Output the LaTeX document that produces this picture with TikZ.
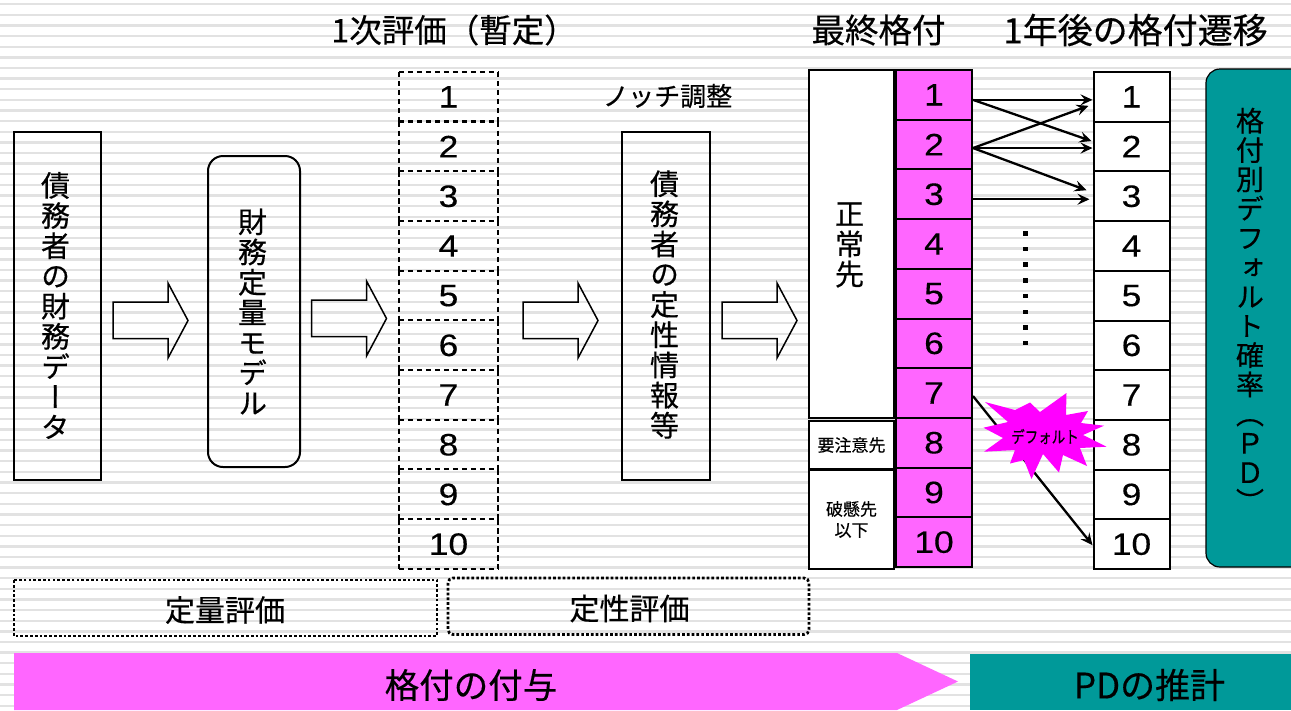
\documentclass[tikz,border=0pt]{standalone}
\usepackage{fontspec}
\setmainfont{Noto Sans CJK JP}[FakeBold=0.4]
\newfontfamily\cjkv[RawFeature=+vert,FakeBold=0.4]{Noto Sans CJK JP}
\newfontfamily\dg[FakeBold=0.25]{Liberation Sans}
\newcommand{\fs}[1]{\fontsize{#1}{#1}\selectfont}
\newcommand{\dnum}[1]{\raisebox{-3.5pt}{\scalebox{1.14}[1]{\dg\fs{31}#1}}}
\definecolor{mag}{HTML}{FF66FF}
\definecolor{burstc}{HTML}{FF00FF}
\definecolor{tealb}{HTML}{009999}
\definecolor{stripe}{HTML}{E2E2E2}
\usetikzlibrary{arrows.meta}
\tikzset{
  box/.style={draw=black,line width=2pt,inner sep=0pt,align=center},
  vtext/.style={font={\cjkv\fontsize{29}{30.2}\selectfont},align=center,inner sep=0pt},
  cell/.style={draw=black,line width=2pt,inner sep=0pt,minimum width=76pt,minimum height=49.7pt},
  dcell/.style={inner sep=0pt,minimum width=99pt,minimum height=49.7pt},
  dline/.style={draw=black,line width=2.1pt,dash pattern=on 5.5pt off 3.5pt},
  mcell/.style={cell,fill=mag},
  rcell/.style={cell,fill=white},
  blockarrow/.style={draw=black,line width=1.5pt},
  flow/.style={draw=black,line width=2.3pt,-{Stealth[length=12pt,width=11pt,inset=4.5pt]}},
  dotbox/.style={draw=black,line width=2.8pt,dash pattern=on 2.7pt off 2.1pt,inner sep=0pt},
  title/.style={font=\fs{33.5},inner sep=0pt},
}
\begin{document}
\begin{tikzpicture}[x=1pt,y=-1pt]
\useasboundingbox (0,0) rectangle (1291,710);
\fill[white] (0,0) rectangle (1291,710);
\foreach \k in {0,...,66} {
  \draw[stripe,line width=2.4pt] (0,4.2+10.63*\k) -- (1291,4.2+10.63*\k);
}
% titles
\node[title,font=\fs{32.5}] (t1) at (454,30) {1次評価（暫定）};
\node[title] (t2) at (878.5,30) {最終格付};
\node[title,font=\fs{35}] (t3) at (1135.5,30) {1年後の格付遷移};
\node[font=\fs{26},inner sep=0pt] (t4) at (667.5,96) {ノッチ調整};
% left boxes
\node[box,minimum width=87pt,minimum height=348pt] (a) at (57.5,306) {};
\node[vtext] (at) at (55.5,305.5) {債\\務\\者\\の\\財\\務\\デ\\ー\\タ};
\node[box,rounded corners=15pt,minimum width=92pt,minimum height=311pt] (b) at (254,311.5) {};
\node[vtext] (bt) at (252.5,311.5) {財\\務\\定\\量\\モ\\デ\\ル};
\node[box,minimum width=88pt,minimum height=348pt] (c) at (666,306) {};
\node[vtext] (ct) at (664.5,304.5) {債\\務\\者\\の\\定\\性\\情\\報\\等};
% block arrows
\foreach \xx/\yy in {113/283,311.5/281,523/283,722/283} {
  \draw[blockarrow] (\xx,\yy+19) -- (\xx+55,\yy+19) -- (\xx+55,\yy) -- (\xx+75,\yy+37.5)
    -- (\xx+55,\yy+75) -- (\xx+55,\yy+55.5) -- (\xx,\yy+55.5) -- cycle;
}
% columns
\foreach \i in {1,...,10} {
  \node[dcell] (d\i) at (448.5,72+49.7*\i-24.85) {\dnum{\i}};
  \draw[dline] (d\i.north west) -- (d\i.north east);
  \draw[dline] (d\i.north west) -- (d\i.south west);
  \draw[dline] (d\i.north east) -- (d\i.south east);
  \node[mcell] (m\i) at (934,70+49.7*\i-24.85) {\dnum{\i}};
  \node[rcell] (r\i) at (1131.5,72+49.7*\i-24.85) {\dnum{\i}};
}
\draw[dline] (d10.south west) -- (d10.south east);
% rating bands
\node[box,fill=white,minimum width=85pt,minimum height=348pt] (n1) at (851.5,244) {};
\node[vtext] (n1t) at (849.5,245) {正\\常\\先};
\node[box,fill=white,minimum width=85pt,minimum height=48pt,font=\fs{17}] (n2) at (851.5,445) {要注意先};
\node[box,fill=white,minimum width=85pt,minimum height=99pt,font={\fontsize{17}{21}\selectfont}] (n3) at (851.5,519.5) {破懸先\\以下};
% migration connectors
\draw[flow] ([yshift=-5pt]m1.east) -- ([yshift=-3pt]r1.west);
\draw[flow] ([yshift=-5pt]m1.east) -- ([yshift=5.5pt,xshift=-1pt]r2.west);
\draw[flow] ([yshift=-3.5pt]m2.east) -- ([xshift=-4pt,yshift=-9pt]r1.west);
\draw[flow] ([yshift=-3.5pt]m2.east) -- ([yshift=-1.5pt]r2.west);
\draw[flow] ([yshift=-3.5pt]m2.east) -- ([xshift=-6pt,yshift=6pt]r3.west);
\draw[flow] ([yshift=-5pt]m3.east) -- ([xshift=-3pt,yshift=-3pt]r3.west);
\draw[flow] ([yshift=-3pt]m7.east) -- ([yshift=-1pt]r10.west);
% dots
\foreach \k in {0,...,7} {
  \fill[black] (1023,231+15.7*\k) rectangle (1028,235.5+15.7*\k);
}
% burst
\fill[burstc] (985,402) -- (1015,410) -- (1030,402.5) -- (1040,412) -- (1066.5,393) -- (1066,415) -- (1088,411) -- (1081,423)
 -- (1104,425.7) -- (1083,435) -- (1106.5,446.7) -- (1080,448) -- (1087,466) -- (1063,455) -- (1059,472.5) -- (1043,454) -- (1031.5,479) -- (1024,460) -- (1010,463.5) -- (1015,450) -- (984,451.7) -- (1003,438) -- (983.5,427.7) -- (1008,422) -- cycle;
\node[inner sep=0pt,font=\fs{15}] (burst) at (1045,436.5) {\scalebox{0.9}[1.1]{デフォルト}};
% teal box
\fill[tealb,rounded corners=14pt] (1206,69) rectangle (1305,567);
\draw[black,line width=1.2pt,rounded corners=14pt] (1206,69) rectangle (1305,567);
\node[vtext,font={\cjkv\fontsize{28}{29.3}\selectfont}] (pd) at (1250,310) {格\\付\\別\\デ\\フ\\ォ\\ル\\ト\\確\\率\\（\\Ｐ\\Ｄ\\）};
% dotted boxes
\draw[dotbox] (14,580) rectangle (437,636);
\node[font=\fs{30},inner sep=0pt] (q1) at (225,610) {定量評価};
\draw[dotbox,rounded corners=5pt] (448,578) rectangle (809,634.5);
\node[font=\fs{30},inner sep=0pt] (q2) at (629.5,608.5) {定性評価};
% bottom bars
\fill[mag] (14,653) -- (897,653) -- (958,681.5) -- (897,710) -- (14,710) -- cycle;
\node[font=\fs{34.5},inner sep=0pt] (g1) at (471,685) {格付の付与};
\fill[tealb] (970,654) rectangle (1291,710);
\node[font=\fs{35},inner sep=0pt] (g2) at (1149.5,685) {PDの推計};
\end{tikzpicture}
\end{document}
